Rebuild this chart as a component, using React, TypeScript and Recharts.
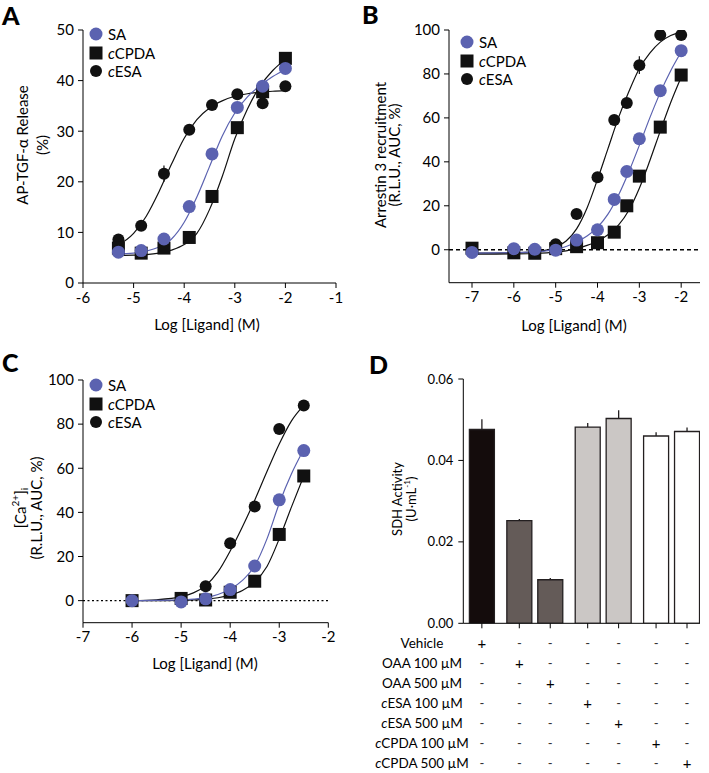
import React from 'react';
import {
  ComposedChart, Line, Scatter, XAxis, YAxis, ReferenceLine, Legend, ErrorBar,
  BarChart, Bar, Cell,
} from 'recharts';

const FONT = 'Lato, "Open Sans", sans-serif';
const BLUE = '#5b62b0';
const INK = '#111';

// ---------- A: AP-TGF-α release ----------
const aDose = [-5.3, -4.85, -4.4, -3.9, -3.45, -2.95, -2.45, -2.0];
const aSA = [6.1, 6.4, 8.7, 15.1, 25.5, 34.7, 38.9, 42.4];
const aCPDA = [6.9, 5.9, 6.9, 9.0, 17.1, 30.7, 37.8, 44.4];
const aESA = [8.6, 11.3, 21.6, 30.3, 35.2, 37.3, 35.5, 38.9];
const aESAErr = [0, 0, 1.6, 0, 0, 0, 0, 0];
// fitted curves
const aFitX = [-5.35, -5.0, -4.75, -4.5, -4.25, -4.0, -3.75, -3.5, -3.25, -3.0, -2.75, -2.5, -2.25, -2.0];
const aFitSA = [5.7, 5.9, 6.3, 7.1, 8.7, 12.0, 17.0, 23.0, 29.0, 33.6, 36.8, 39.0, 40.8, 42.2];
const aFitCPDA = [5.4, 5.5, 5.6, 5.9, 6.5, 7.6, 9.8, 14.5, 21.0, 28.5, 34.4, 38.9, 42.0, 44.2];
const aFitESA = [7.2, 9.8, 13.2, 18.0, 23.5, 28.6, 32.3, 34.6, 36.0, 36.9, 37.4, 37.7, 37.9, 38.0];

// ---------- B: arrestin 3 recruitment ----------
const bDose = [-7, -6, -5.5, -5, -4.5, -4, -3.6, -3.3, -3, -2.5, -2];
const bSA = [-1.2, 0.5, 0.2, -0.2, 4.4, 9.1, 22.9, 35.6, 50.5, 72.4, 90.6];
const bCPDA = [0.7, -1.4, -1.6, 0.5, 1.4, 3.2, 8.0, 20.0, 33.5, 55.8, 79.5];
const bESA = [-1.0, -1.5, -1.5, 2.5, 16.3, 33.0, 59.0, 66.8, 84.0, 97.7, 97.7];
const bESAErr = [0, 0, 0, 0, 0, 0, 2, 0, 4, 0, 0];
const bFitX = [-7, -6.5, -6, -5.5, -5, -4.75, -4.5, -4.25, -4, -3.75, -3.5, -3.25, -3, -2.75, -2.5, -2.25, -2];
const bFitSA = [-1.5, -1.4, -1.3, -1.0, 0.2, 1.5, 3.5, 6.2, 10.2, 16.2, 24.8, 35.5, 47.5, 60.0, 71.5, 81.5, 90.0];
const bFitCPDA = [-2.0, -2.0, -1.9, -1.7, -1.1, -0.5, 0.6, 2.0, 3.9, 6.8, 11.2, 18.0, 28.0, 40.5, 54.0, 67.0, 78.5];
const bFitESA = [-1.5, -1.5, -1.4, -1.0, 1.2, 4.0, 9.5, 19.0, 32.0, 46.0, 60.0, 72.0, 82.5, 89.5, 94.5, 97.5, 99.0];

// ---------- C: [Ca2+]i ----------
const cDose = [-6, -5, -4.5, -4, -3.5, -3, -2.5];
const cSA = [0, -0.6, 0.8, 5.0, 15.7, 45.7, 68.0];
const cCPDA = [0, 1.0, 0.3, 3.8, 8.8, 30.0, 56.5];
const cESA = [0, 1.2, 6.5, 26.0, 42.7, 77.8, 88.4];
const cFitX = [-6, -5.5, -5, -4.75, -4.5, -4.25, -4, -3.75, -3.5, -3.25, -3, -2.75, -2.5];
const cFitSA = [0, 0.1, 0.3, 0.7, 1.4, 2.8, 5.2, 9.2, 15.8, 28.0, 44.0, 57.5, 68.5];
const cFitCPDA = [0, 0, 0.1, 0.3, 0.6, 1.3, 2.5, 4.6, 8.5, 15.5, 28.0, 42.5, 56.5];
const cFitESA = [0, 0.4, 1.8, 3.5, 6.8, 13.0, 22.5, 33.5, 45.5, 58.5, 71.0, 81.5, 88.5];

// ---------- D: SDH activity ----------
const dTreatments = ['Vehicle', 'OAA 100 µM', 'OAA 500 µM', 'cESA 100 µM', 'cESA 500 µM', 'cCPDA 100 µM', 'cCPDA 500 µM'];
const dMean = [0.0476, 0.0252, 0.0107, 0.0482, 0.0503, 0.0460, 0.0471];
const dErr = [0.0025, 0.0004, 0.0004, 0.0010, 0.0020, 0.0009, 0.0010];
const dGroup = [0, 1, 1, 2, 2, 3, 3];

const groupFill = ['#140c0c', '#645b58', '#cbc7c5', '#ffffff'];

type P = { x: number; y: number; err: number };
const zip = (xs: number[], ys: number[], err?: number[]): P[] =>
  xs.map((x, i) => ({ x, y: ys[i], err: err ? err[i] : 0 }));

const Ital = ({ c, rest }: { c: string; rest: string }) => (
  <tspan><tspan fontStyle="italic">{c}</tspan>{rest}</tspan>
);

const marker = (kind: string, cx: number, cy: number) => {
  if (kind === 'sa') return <circle cx={cx} cy={cy} r={6.5} fill={BLUE} />;
  if (kind === 'cpda') return <rect x={cx - 6.5} y={cy - 6.5} width={13} height={13} fill={INK} />;
  return <circle cx={cx} cy={cy} r={6} fill={INK} />;
};

const LegendBox = ({ rowH }: { rowH: number }) => {
  const rows = [
    { k: 'sa', label: <span>SA</span> },
    { k: 'cpda', label: <span><i>c</i>CPDA</span> },
    { k: 'esa', label: <span><i>c</i>ESA</span> },
  ];
  return (
    <div style={{ fontFamily: FONT, fontSize: 15, color: '#000' }}>
      {rows.map((r) => (
        <div key={r.k} style={{ display: 'flex', alignItems: 'center', height: rowH }}>
          <svg width={16} height={16} style={{ display: 'block' }}>{marker(r.k, 8, 8)}</svg>
          <span style={{ marginLeft: 4 }}>{r.label}</span>
        </div>
      ))}
    </div>
  );
};

type TitleItem = { x: number; y: number; text: React.ReactNode; size?: number; rotate?: boolean };
const Titles = ({ items }: { items: TitleItem[] }) => (
  <g>
    {items.map((t, i) => (
      <text
        key={i}
        x={t.x}
        y={t.y}
        transform={t.rotate ? `rotate(-90 ${t.x} ${t.y})` : undefined}
        textAnchor="middle"
        dominantBaseline="central"
        fontSize={t.size ?? 15}
        fontFamily={FONT}
        fill="#000"
      >
        {t.text}
      </text>
    ))}
  </g>
);

type DoseProps = {
  left: number; top: number; width: number; height: number;
  margin: { top: number; right: number; bottom: number; left: number };
  xDomain: [number, number]; xTicks: number[];
  yDomain: [number, number]; yTicks: number[];
  sa: P[]; cpda: P[]; esa: P[];
  fitSA: P[]; fitCPDA: P[]; fitESA: P[];
  yTitles: TitleItem[]; xTitle: TitleItem;
  legendPos: { left: number; top: number };
  zeroDash?: string;
  errors?: boolean;
};

const DoseChart = (p: DoseProps) => (
  <div style={{ position: 'absolute', left: p.left, top: p.top }}>
    <ComposedChart width={p.width} height={p.height} margin={p.margin}>
      <XAxis
        type="number" dataKey="x" domain={p.xDomain} ticks={p.xTicks} allowDataOverflow interval={0}
        stroke="#000" tickSize={5} tickMargin={4} height={40}
        tick={{ fill: '#000', fontSize: 15, fontFamily: FONT }}
        label={<Titles items={[p.xTitle]} />}
      />
      <YAxis
        type="number" domain={p.yDomain} ticks={p.yTicks} allowDataOverflow interval={0}
        stroke="#000" tickSize={5} tickMargin={4} width={60}
        tick={{ fill: '#000', fontSize: 15, fontFamily: FONT }}
        label={<Titles items={p.yTitles} />}
      />
      {p.zeroDash && <ReferenceLine y={0} stroke="#000" strokeWidth={1.3} strokeDasharray={p.zeroDash} />}
      <Line data={p.fitESA} dataKey="y" type="monotone" stroke={INK} strokeWidth={1.2} dot={false} isAnimationActive={false} />
      <Line data={p.fitCPDA} dataKey="y" type="monotone" stroke={INK} strokeWidth={1.2} dot={false} isAnimationActive={false} />
      <Line data={p.fitSA} dataKey="y" type="monotone" stroke={BLUE} strokeWidth={1.2} dot={false} isAnimationActive={false} />
      <Scatter data={p.esa} dataKey="y" isAnimationActive={false} shape={(s: any) => marker('esa', s.cx, s.cy)}>
        {p.errors && <ErrorBar dataKey="err" direction="y" width={0} stroke={INK} strokeWidth={1.2} />}
      </Scatter>
      <Scatter data={p.cpda} dataKey="y" isAnimationActive={false} shape={(s: any) => marker('cpda', s.cx, s.cy)} />
      <Scatter data={p.sa} dataKey="y" isAnimationActive={false} shape={(s: any) => marker('sa', s.cx, s.cy)} />
      <Legend
        layout="vertical" align="center" verticalAlign="middle"
        wrapperStyle={{ left: p.legendPos.left, top: p.legendPos.top, width: 'auto' }}
        content={() => <LegendBox rowH={18.6} />}
      />
    </ComposedChart>
  </div>
);

// ---------- D helpers ----------
const dRows = dMean.map((m, i) => ({
  pos: i + dGroup[i] * 0.21,
  mean: m,
  err: [0, dErr[i]],
  group: dGroup[i],
}));
const ROW0 = 312.7;
const ROWH = 20.1;

const TableTick = (props: any) => {
  const { x, index } = props;
  return (
    <g>
      {dTreatments.map((_, j) => (
        <text
          key={j} x={x} y={ROW0 + j * ROWH} textAnchor="middle" dominantBaseline="central"
          fontSize={j === index ? 15 : 13} fontFamily={FONT} fill={j === index ? '#000' : '#333'}
        >
          {j === index ? '+' : '-'}
        </text>
      ))}
    </g>
  );
};

const treatLabel = (t: string) =>
  t.startsWith('c') ? <Ital c="c" rest={t.slice(1)} /> : t;

const RowLabels = () => (
  <g>
    {dTreatments.map((t, j) => (
      <text
        key={j} x={72} y={ROW0 + j * ROWH} textAnchor="middle" dominantBaseline="central"
        fontSize={13.5} fontFamily={FONT} fill="#000"
      >
        {treatLabel(t)}
      </text>
    ))}
  </g>
);

const SdhChart = () => (
  <div style={{ position: 'absolute', left: 350, top: 330 }}>
    <BarChart width={359} height={443} data={dRows} margin={{ top: 49, right: 9, bottom: 9.7, left: 43.3 }}>
      <XAxis
        type="number" dataKey="pos" domain={[-0.6, 7.05]} ticks={dRows.map((r) => r.pos)}
        allowDataOverflow interval={0} stroke="#000" tickSize={5} height={140}
        tick={<TableTick />}
        label={<RowLabels />}
      />
      <YAxis
        type="number" domain={[0, 0.06]} ticks={[0, 0.02, 0.04, 0.06]} allowDataOverflow interval={0}
        stroke="#000" tickSize={5} tickMargin={5} width={70}
        tickFormatter={(v: number) => v.toFixed(2)}
        tick={{ fill: '#000', fontSize: 13, fontFamily: FONT }}
        label={
          <Titles
            items={[
              { x: 46.7, y: 169, text: 'SDH Activity', size: 13, rotate: true },
              {
                x: 61, y: 169, size: 13, rotate: true,
                text: <tspan>(U·mL<tspan dy={-4} fontSize={8}>-1</tspan><tspan dy={4}>)</tspan></tspan>,
              },
            ]}
          />
        }
      />
      <Bar dataKey="mean" barSize={25} stroke="#231f20" strokeWidth={1.3} isAnimationActive={false}>
        {dRows.map((r, i) => (
          <Cell key={i} fill={groupFill[r.group]} />
        ))}
        <ErrorBar dataKey="err" direction="y" width={0} stroke="#231f20" strokeWidth={1.3} />
      </Bar>
    </BarChart>
  </div>
);

const PanelLetter = ({ ch, left, top }: { ch: string; left: number; top: number }) => (
  <div style={{ position: 'absolute', left, top, fontFamily: FONT, fontWeight: 900, fontSize: 25, lineHeight: '25px' }}>
    {ch}
  </div>
);

const xLog = 'Log [Ligand] (M)';

export default function App() {
  return (
    <div style={{ position: 'absolute', left: 0, top: 0, width: 709, height: 773, background: '#fff', overflow: 'hidden' }}>
      <DoseChart
        left={0} top={0} width={350} height={340}
        margin={{ top: 30, right: 14, bottom: 17, left: 23 }}
        xDomain={[-6, -1]} xTicks={[-6, -5, -4, -3, -2, -1]}
        yDomain={[0, 50]} yTicks={[0, 10, 20, 30, 40, 50]}
        sa={zip(aDose, aSA)} cpda={zip(aDose, aCPDA)} esa={zip(aDose, aESA, aESAErr)}
        fitSA={zip(aFitX, aFitSA)} fitCPDA={zip(aFitX, aFitCPDA)} fitESA={zip(aFitX, aFitESA)}
        yTitles={[
          { x: 21.7, y: 145, text: 'AP-TGF-α Release', rotate: true },
          { x: 41.7, y: 145, text: '(%)', rotate: true },
        ]}
        xTitle={{ x: 207, y: 324, text: xLog }}
        legendPos={{ left: 88, top: 25 }}
        errors
      />
      <DoseChart
        left={350} top={0} width={359} height={340}
        margin={{ top: 30, right: 9, bottom: 17.3, left: 39 }}
        xDomain={[-7.55, -1.55]} xTicks={[-7, -6, -5, -4, -3, -2]}
        yDomain={[-15, 100]} yTicks={[0, 20, 40, 60, 80, 100]}
        sa={zip(bDose, bSA)} cpda={zip(bDose, bCPDA)} esa={zip(bDose, bESA, bESAErr)}
        fitSA={zip(bFitX, bFitSA)} fitCPDA={zip(bFitX, bFitCPDA)} fitESA={zip(bFitX, bFitESA)}
        yTitles={[
          { x: 29.5, y: 155, text: 'Arrestin 3 recruitment', rotate: true },
          { x: 43.5, y: 155, text: '(R.L.U., AUC, %)', rotate: true },
        ]}
        xTitle={{ x: 224, y: 325, text: xLog }}
        legendPos={{ left: 109, top: 33 }}
        zeroDash="4 3"
        errors
      />
      <DoseChart
        left={0} top={330} width={350} height={345}
        margin={{ top: 50, right: 21.7, bottom: 12.3, left: 23 }}
        xDomain={[-7, -2]} xTicks={[-7, -6, -5, -4, -3, -2]}
        yDomain={[-10, 100]} yTicks={[0, 20, 40, 60, 80, 100]}
        sa={zip(cDose, cSA)} cpda={zip(cDose, cCPDA)} esa={zip(cDose, cESA)}
        fitSA={zip(cFitX, cFitSA)} fitCPDA={zip(cFitX, cFitCPDA)} fitESA={zip(cFitX, cFitESA)}
        yTitles={[
          {
            x: 20, y: 178, rotate: true,
            text: <tspan>[Ca<tspan dy={-5} fontSize={10}>2+</tspan><tspan dy={5}>]</tspan><tspan dy={4} fontSize={10}>i</tspan></tspan>,
          },
          { x: 36, y: 178, text: '(R.L.U., AUC, %)', rotate: true },
        ]}
        xTitle={{ x: 205, y: 333, text: xLog }}
        legendPos={{ left: 88, top: 46 }}
        zeroDash="2 2.5"
      />
      <SdhChart />
      <PanelLetter ch="A" left={2} top={3} />
      <PanelLetter ch="B" left={362} top={2} />
      <PanelLetter ch="C" left={2} top={350} />
      <PanelLetter ch="D" left={369} top={352} />
    </div>
  );
}
